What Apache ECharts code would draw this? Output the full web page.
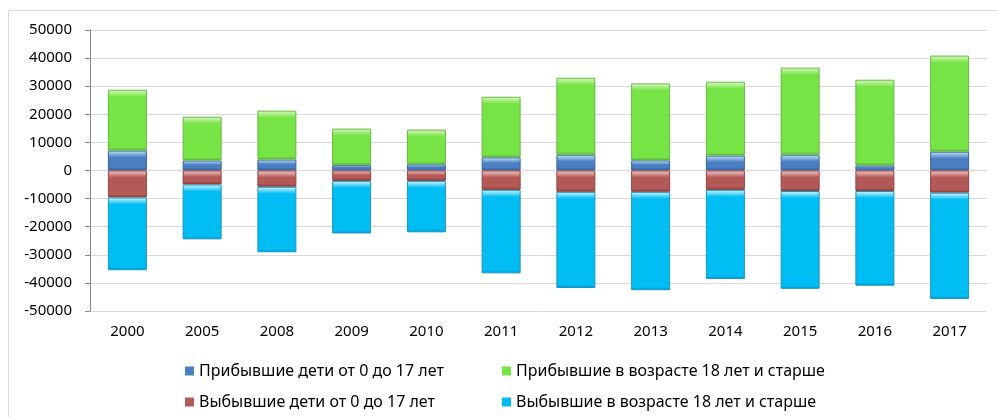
<!DOCTYPE html>
<html>
<head>
<meta charset="utf-8">
<script src="https://cdn.jsdelivr.net/npm/echarts@6/dist/echarts.min.js"></script>
<style>
    html, body { margin: 0; padding: 0; background: #fff; }
    #chart { width: 998px; height: 417px; }
</style>
</head>
<body>
<div id="chart"></div>
<script>
const years = ['2000', '2005', '2008', '2009', '2010', '2011', '2012', '2013', '2014', '2015', '2016', '2017'];
// прибывшие
const arrivedKids = [7100, 3550, 3900, 1900, 2200, 4700, 5600, 3600, 5300, 5600, 1800, 6700];
const arrivedAdults = [21650, 15600, 17400, 13000, 12350, 21550, 27400, 27400, 26300, 31000, 30500, 34200];
// выбывшие
const leftKids = [-9600, -5000, -5800, -3700, -3700, -6900, -7600, -7600, -6900, -7300, -7300, -7900];
const leftAdults = [-25900, -19500, -23300, -18700, -18300, -29700, -34200, -35000, -31700, -34800, -33700, -37800];

const names = [
    'Прибывшие дети от 0 до 17 лет',
    'Прибывшие в возрасте 18 лет и старше',
    'Выбывшие дети от 0 до 17 лет',
    'Выбывшие в возрасте 18 лет и старше'
];

const FONT = 'Noto Sans';
const PX_PER_UNIT = 28.14 / 10000;

// цвета "объёмных" столбцов: светлый верх, основной, тёмный низ, рамка
const palette = [
    { light: '#c4e6fb', main: '#4a7ec2', dark: '#2f5d96', border: '#3a659c' },
    { light: '#e0f8c8', main: '#77e446', dark: '#55b132', border: '#66b844' },
    { light: '#f6d2d0', main: '#b35a58', dark: '#8a3634', border: '#94413f' },
    { light: '#dcf8ff', main: '#00bdf4', dark: '#0090c4', border: '#1a96c0' }
];

const bevel = (p, v) => {
    const h = Math.max(1, Math.abs(v) * PX_PER_UNIT);
    const f = Math.min(0.45, 7 / h);
    return {
        color: new echarts.graphic.LinearGradient(0, 0, 0, 1, [
            { offset: 0, color: p.light },
            { offset: f, color: p.main },
            { offset: Math.max(f, 1 - Math.min(0.3, 3 / h)), color: p.main },
            { offset: 1, color: p.dark }
        ]),
        borderColor: p.border,
        borderWidth: 1
    };
};

const makeSeries = (idx, values) => ({
    name: names[idx],
    type: 'bar',
    stack: 'total',
    barWidth: 39,
    color: palette[idx].main,
    data: values.map(v => ({ value: v, itemStyle: bevel(palette[idx], v) }))
});

const legendAt = (idx, left, top) => ({
    data: [{ name: names[idx], icon: 'rect' }],
    left: left,
    top: top,
    itemWidth: 9,
    itemHeight: 9,
    itemGap: 4,
    textStyle: { fontFamily: FONT, fontSize: 16, color: '#000' }
});

const chart = echarts.init(document.getElementById('chart'));
chart.setOption({
    animation: false,
    graphic: [{
        type: 'rect',
        shape: { x: 8.5, y: 10.5, width: 1000, height: 420 },
        style: { fill: 'none', stroke: '#d9d9d9', lineWidth: 1 },
        silent: true
    }],
    grid: { left: 90, right: 11, top: 30, bottom: 106 },
    legend: [
        legendAt(0, 180, 358),
        legendAt(1, 497, 358),
        legendAt(2, 180, 389),
        legendAt(3, 497, 389)
    ],
    xAxis: {
        type: 'category',
        data: years,
        axisLine: { show: false, onZero: false },
        axisTick: { show: false },
        axisLabel: { fontFamily: FONT, fontSize: 15, color: '#000', margin: 13 }
    },
    yAxis: {
        type: 'value',
        min: -50000,
        max: 50000,
        interval: 10000,
        axisLine: { show: true, lineStyle: { color: '#868686' } },
        axisTick: { show: true, length: 5, lineStyle: { color: '#868686' } },
        axisLabel: { fontFamily: FONT, fontSize: 15, color: '#000', margin: 18, formatter: v => String(v) },
        splitLine: { lineStyle: { color: '#d9d9d9', width: 1 } }
    },
    series: [
        makeSeries(0, arrivedKids),
        makeSeries(1, arrivedAdults),
        makeSeries(2, leftKids),
        makeSeries(3, leftAdults)
    ]
});
</script>
</body>
</html>
